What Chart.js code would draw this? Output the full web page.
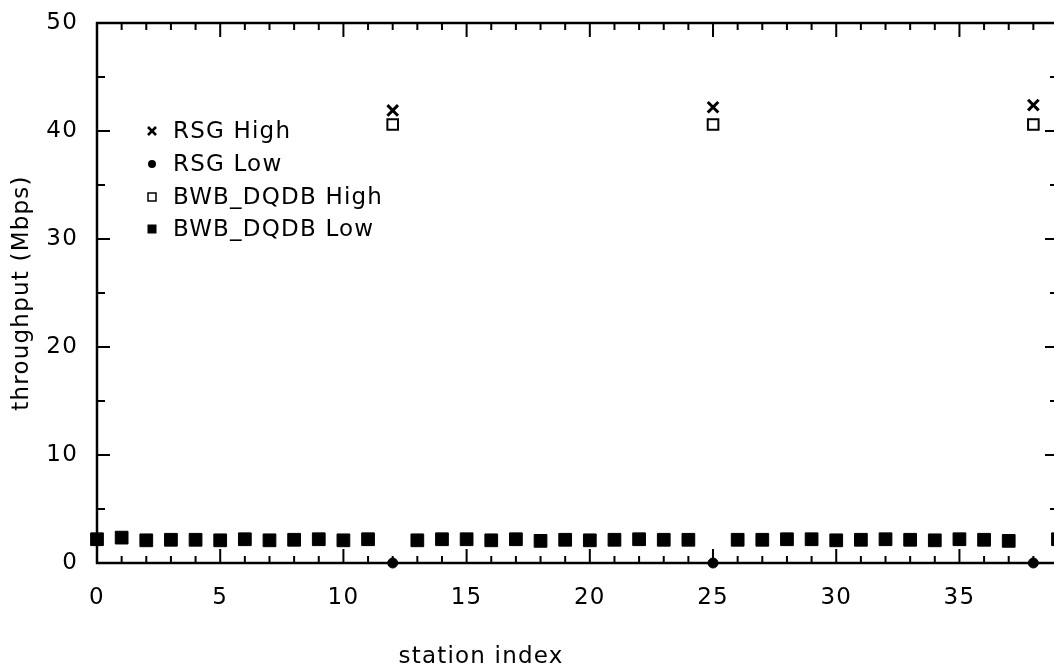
<!DOCTYPE html>
<html>
<head>
<meta charset="utf-8">
<script src="https://cdn.jsdelivr.net/npm/chart.js@4/dist/chart.umd.min.js"></script>
<style>
html, body { margin: 0; padding: 0; overflow: hidden; background: #fff; }
#wrap { width: 1070px; height: 671px; }
</style>
</head>
<body>
<div id="wrap"><canvas id="myChart" width="1070" height="671"></canvas></div>
<script>
// stations holding high priority traffic
const highStations = [12, 25, 38];
const rsgHigh = [41.9, 42.2, 42.4];
const rsgLow = [0, 0, 0];
const bwbHigh = [40.6, 40.6, 40.6];

// stations with low priority traffic only
const lowStations = [0, 1, 2, 3, 4, 5, 6, 7, 8, 9, 10, 11, 13, 14, 15, 16, 17, 18, 19,
    20, 21, 22, 23, 24, 26, 27, 28, 29, 30, 31, 32, 33, 34, 35, 36, 37, 39];
const bwbLow = [2.2, 2.35, 2.1, 2.15, 2.15, 2.1, 2.2, 2.1, 2.15, 2.2, 2.1, 2.2, 2.1, 2.2, 2.2, 2.1, 2.2, 2.05, 2.15,
    2.1, 2.15, 2.2, 2.15, 2.15, 2.15, 2.15, 2.2, 2.2, 2.1, 2.15, 2.2, 2.15, 2.1, 2.2, 2.15, 2.05, 2.2];

const xTicks = [0, 5, 10, 15, 20, 25, 30, 35];
const yTicks = [0, 10, 20, 30, 40, 50];

const FONT = 'DejaVu Sans';

function toPoints(xs, ys) {
    return xs.map((v, i) => ({ x: v, y: ys[i] }));
}

// frame with inward ticks on all four sides
const frameTicks = {
    id: 'frameTicks',
    beforeDraw(chart) {
        chart.ctx.letterSpacing = '1.2px';
    },
    beforeDatasetsDraw(chart) {
        const { ctx, chartArea: a, scales: { x, y } } = chart;
        ctx.save();
        ctx.strokeStyle = '#000';
        ctx.lineWidth = 2;
        ctx.beginPath();
        for (let v = x.min; v <= x.max; v++) {
            const px = x.getPixelForValue(v);
            const len = v % 5 === 0 ? 14 : 7;
            ctx.moveTo(px, a.bottom); ctx.lineTo(px, a.bottom - len);
            ctx.moveTo(px, a.top); ctx.lineTo(px, a.top + len);
        }
        for (let v = y.min; v <= y.max; v += 5) {
            const py = y.getPixelForValue(v);
            const len = v % 10 === 0 ? 13 : 8;
            ctx.moveTo(a.left, py); ctx.lineTo(a.left + len, py);
            ctx.moveTo(a.right, py); ctx.lineTo(a.right - len, py);
        }
        ctx.stroke();
        ctx.lineWidth = 2.5;
        ctx.strokeRect(a.left, a.top, a.right - a.left, a.bottom - a.top);
        ctx.restore();
    },
    afterDraw(chart) {
        const { ctx } = chart;
        ctx.save();
        ctx.fillStyle = '#000';
        ctx.font = '23px "' + FONT + '"';
        ctx.letterSpacing = '1.2px';
        ctx.textBaseline = 'middle';
        ctx.textAlign = 'center';
        ctx.fillText('station index', 481, 657);

        // legend inside plot
        const rows = [131, 164, 197, 229];
        const mx = 152;
        ctx.textAlign = 'left';
        chart.data.datasets.forEach((ds, i) => {
            const yy = rows[i];
            ctx.strokeStyle = '#000';
            ctx.fillStyle = '#000';
            if (ds.pointStyle === 'crossRot') {
                ctx.lineWidth = 2.5;
                ctx.beginPath();
                ctx.moveTo(mx - 4, yy - 4); ctx.lineTo(mx + 4, yy + 4);
                ctx.moveTo(mx - 4, yy + 4); ctx.lineTo(mx + 4, yy - 4);
                ctx.stroke();
            } else if (ds.pointStyle === 'circle') {
                ctx.beginPath();
                ctx.arc(mx, yy, 4, 0, Math.PI * 2);
                ctx.fill();
            } else if (ds.backgroundColor === '#000') {
                ctx.fillRect(mx - 4.5, yy - 4.5, 9, 9);
            } else {
                ctx.lineWidth = 1.5;
                ctx.strokeRect(mx - 4, yy - 4, 8, 8);
            }
            ctx.fillStyle = '#000';
            ctx.fillText(ds.label, 173, yy + 1);
        });
        ctx.restore();
    }
};

const ctx = document.getElementById('myChart').getContext('2d');
new Chart(ctx, {
    type: 'scatter',
    data: {
        datasets: [
            {
                label: 'RSG High',
                data: toPoints(highStations, rsgHigh),
                pointStyle: 'crossRot',
                pointRadius: 7.5,
                borderColor: '#000',
                backgroundColor: '#000',
                borderWidth: 3
            },
            {
                label: 'RSG Low',
                data: toPoints(highStations, rsgLow),
                pointStyle: 'circle',
                pointRadius: 5,
                borderColor: '#000',
                backgroundColor: '#000',
                borderWidth: 1
            },
            {
                label: 'BWB_DQDB High',
                data: toPoints(highStations, bwbHigh),
                pointStyle: 'rect',
                pointRadius: 7.5,
                borderColor: '#000',
                backgroundColor: 'rgba(255,255,255,0)',
                borderWidth: 2
            },
            {
                label: 'BWB_DQDB Low',
                data: toPoints(lowStations, bwbLow),
                pointStyle: 'rect',
                pointRadius: 9,
                borderColor: '#000',
                backgroundColor: '#000',
                borderWidth: 1
            }
        ]
    },
    options: {
        responsive: false,
        animation: false,
        devicePixelRatio: 1,
        events: [],
        clip: false,
        layout: { padding: { left: 0, top: 23, right: 12, bottom: 0 } },
        plugins: {
            legend: { display: false },
            tooltip: { enabled: false }
        },
        scales: {
            x: {
                type: 'linear',
                min: 0,
                max: 39,
                grid: { display: false, drawTicks: false },
                border: { display: false },
                afterBuildTicks: s => { s.ticks = xTicks.map(v => ({ value: v })); },
                afterFit: s => { s.height = 108; s.paddingLeft = 0; s.paddingRight = 0; },
                ticks: {
                    color: '#000',
                    padding: 21,
                    maxRotation: 0,
                    autoSkip: false,
                    font: { family: FONT, size: 23 }
                }
            },
            y: {
                min: 0,
                max: 50,
                grid: { display: false, drawTicks: false },
                border: { display: false },
                afterBuildTicks: s => { s.ticks = yTicks.map(v => ({ value: v })); },
                afterFit: s => { s.width = 97; s.paddingTop = 0; s.paddingBottom = 0; },
                title: {
                    display: true,
                    text: 'throughput (Mbps)',
                    color: '#000',
                    padding: { top: 8, bottom: 0 },
                    font: { family: FONT, size: 23 }
                },
                ticks: {
                    color: '#000',
                    padding: 19,
                    font: { family: FONT, size: 23 }
                }
            }
        }
    },
    plugins: [frameTicks]
});
</script>
</body>
</html>
